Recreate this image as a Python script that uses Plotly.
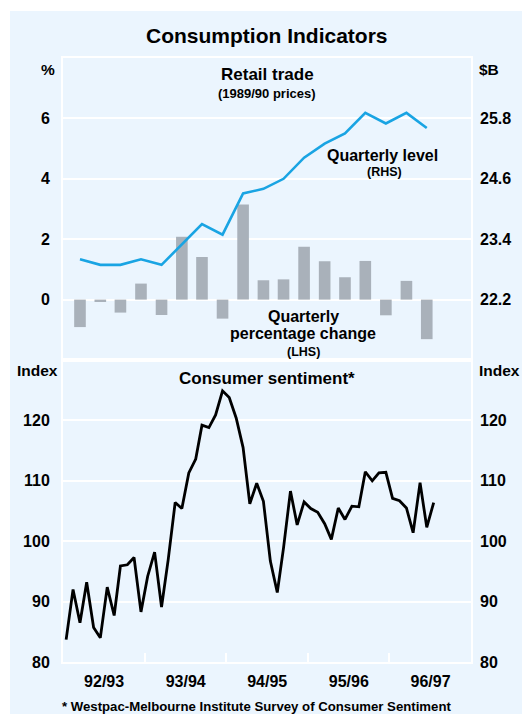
import pandas as pd
import plotly.graph_objects as go

# ---- Data ----
quarters = pd.date_range("1992-08-15", periods=18, freq="3MS") + pd.Timedelta(days=14)
retail_pct_change = [-0.91, -0.08, -0.43, 0.53, -0.51, 2.08, 1.41, -0.63, 3.15,
                     0.64, 0.67, 1.75, 1.27, 0.74, 1.28, -0.52, 0.62, -1.31]
retail_level_bn = [23.00, 22.89, 22.89, 23.00, 22.89, 23.29, 23.70, 23.49, 24.31,
                   24.40, 24.60, 25.02, 25.30, 25.50, 25.91, 25.70, 25.91, 25.61]

months = pd.date_range("1992-07-01", periods=55, freq="MS") + pd.Timedelta(days=14)
sentiment = [83.7, 92.0, 86.5, 93.2, 85.7, 84.0, 92.4, 87.7, 95.9, 96.1, 97.3,
             88.3, 94.2, 98.2, 89.1, 97.0, 106.4, 105.4, 111.3, 113.6, 119.2,
             118.8, 120.9, 124.9, 123.8, 120.4, 115.5, 106.2, 109.6, 106.6,
             96.7, 91.5, 98.9, 108.3, 102.7, 106.5, 105.4, 104.8, 102.9, 100.3,
             105.5, 103.6, 105.8, 105.7, 111.5, 110.0, 111.3, 111.4, 107.1,
             106.7, 105.5, 101.4, 109.7, 102.3, 106.4]

year_bounds = ["1993-07-01", "1994-07-01", "1995-07-01", "1996-07-01"]
fy_label_pos = ["1993-01-01", "1994-01-01", "1995-01-01", "1996-01-01", "1997-01-01"]
fy_labels = ["92/93", "93/94", "94/95", "95/96", "96/97"]

lhs_ticks = [0, 2, 4, 6]
rhs_ticks = [22.2, 23.4, 24.6, 25.8]
idx_ticks = [80, 90, 100, 110, 120]

# ---- Styles ----
BG = "#EBF5FE"
FONT = "Liberation Sans, Arial, sans-serif"
x_range = ["1992-07-01", "1997-07-01"]
tickfont = dict(family=FONT, size=16, color="black", weight="bold")

fig = go.Figure()
fig.add_trace(go.Bar(x=quarters, y=retail_pct_change, xaxis="x", yaxis="y",
                     marker=dict(color="#A9B1BA", line=dict(width=0)),
                     width=52 * 86400000, showlegend=False))
fig.add_trace(go.Scatter(x=quarters, y=retail_level_bn, xaxis="x", yaxis="y2",
                         mode="lines", line=dict(color="#19A4E3", width=2.6),
                         showlegend=False))
fig.add_trace(go.Scatter(x=months, y=sentiment, xaxis="x2", yaxis="y3",
                         mode="lines", line=dict(color="black", width=2.8),
                         showlegend=False))
fig.add_trace(go.Scatter(x=months, y=sentiment, xaxis="x2", yaxis="y4",
                         mode="lines", line=dict(width=0), opacity=0,
                         hoverinfo="skip", showlegend=False))

axis_common = dict(showline=True, linecolor="white", linewidth=2, mirror=True)

fig.update_layout(
    width=522, height=714,
    margin=dict(l=63, r=51, t=58, b=52),
    paper_bgcolor="white", plot_bgcolor=BG,
    font=dict(family=FONT, color="black"),
    xaxis=dict(domain=[0, 1], anchor="y", range=x_range, type="date",
               showticklabels=False, showgrid=False, ticks="", **axis_common),
    yaxis=dict(domain=[0.5, 1], anchor="x", range=[-2, 8], tickvals=lhs_ticks,
               showgrid=True, gridcolor="white", gridwidth=1.7,
               zeroline=True, zerolinecolor="white", zerolinewidth=1.7,
               tickfont=tickfont, ticks="", ticklabelstandoff=8, **axis_common),
    yaxis2=dict(overlaying="y", side="right", anchor="x", range=[21.0, 27.0],
                tickvals=rhs_ticks, ticktext=[f"{v:.1f}" for v in rhs_ticks],
                showgrid=False, zeroline=False, tickfont=tickfont, ticks="",
                ticklabelstandoff=8),
    xaxis2=dict(domain=[0, 1], anchor="y3", range=x_range, type="date",
                tickvals=fy_label_pos, ticktext=fy_labels, ticks="",
                tickfont=tickfont, showgrid=False, ticklabelstandoff=4,
                minor=dict(tickvals=year_bounds, ticks="inside", ticklen=9,
                           tickcolor="white", tickwidth=2, showgrid=False),
                **axis_common),
    yaxis3=dict(domain=[0, 0.5], anchor="x2", range=[80, 130], tickvals=idx_ticks,
                showgrid=True, gridcolor="white", gridwidth=1.7, zeroline=False,
                tickfont=tickfont, ticks="", ticklabelstandoff=8, **axis_common),
    yaxis4=dict(overlaying="y3", side="right", anchor="x2", range=[80, 130],
                tickvals=idx_ticks, showgrid=False, zeroline=False,
                tickfont=tickfont, ticks="", ticklabelstandoff=8),
    shapes=[dict(type="rect", xref="paper", yref="paper", layer="below",
                 x0=-53 / 408, x1=459 / 408, y0=-52 / 604, y1=(714 - 11 - 52) / 604,
                 fillcolor=BG, line=dict(width=0))],
)

def ann(text, x, y, size, xanchor="center"):
    # x, y given in pixels from top-left of the figure
    fig.add_annotation(text=text, xref="paper", yref="paper",
                       x=(x - 63) / 408, y=(714 - 52 - y) / 604,
                       xanchor=xanchor, yanchor="middle", showarrow=False,
                       font=dict(family=FONT, size=size, color="black"))

ann("<b>Consumption Indicators</b>", 267, 36, 21)
ann("<b>%</b>", 48, 69, 15.5)
ann("<b>$B</b>", 489, 69, 15.5)
ann("<b>Retail trade</b>", 267, 75, 17)
ann("<b>(1989/90 prices)</b>", 267, 93, 13)
ann("<b>Quarterly level</b>", 382, 155, 16)
ann("<b>(RHS)</b>", 384, 172, 12.5)
ann("<b>Quarterly</b>", 303, 316, 16)
ann("<b>percentage change</b>", 303, 333, 16)
ann("<b>(LHS)</b>", 303, 352, 12.5)
ann("<b>Index</b>", 37, 371, 15.5)
ann("<b>Index</b>", 499, 371, 15.5)
ann("<b>Consumer sentiment*</b>", 267, 378, 17)
ann("<b>* Westpac-Melbourne Institute Survey of Consumer Sentiment</b>", 256, 706, 13.2)

fig.write_html("out.html", config={"displayModeBar": False},
               post_script="document.body.style.margin='0';document.body.style.overflow='hidden';")
